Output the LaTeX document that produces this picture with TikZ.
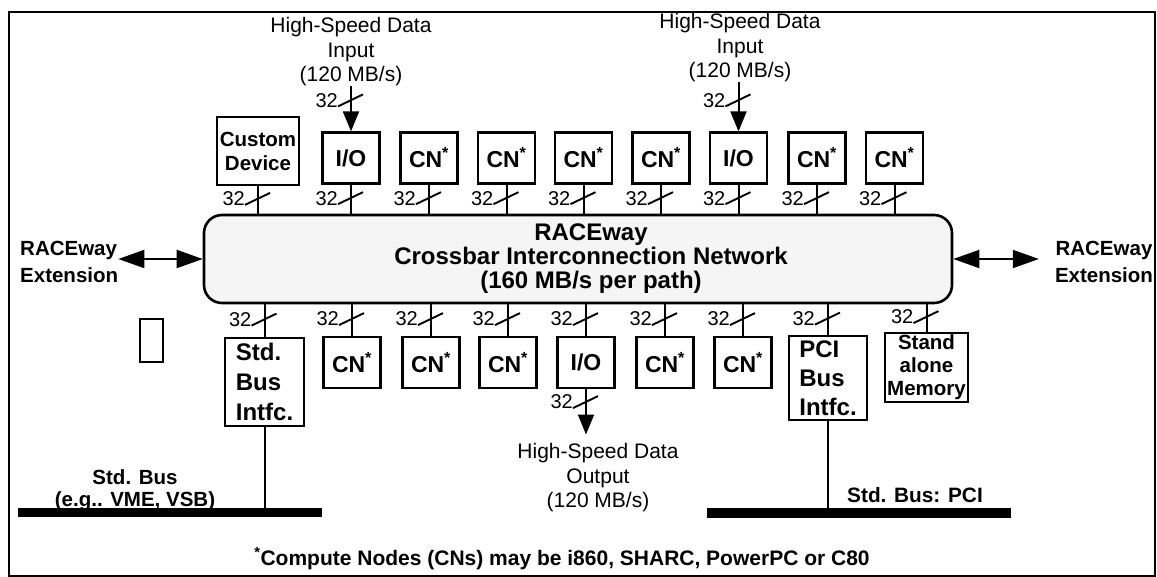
\documentclass[tikz,border=0pt]{standalone}
\usepackage{fontspec}
\setmainfont{Liberation Sans}
\usetikzlibrary{arrows.meta,calc}
\tikzset{
  box/.style={draw, line width=2.2pt, inner sep=0pt, minimum width=57pt, minimum height=51pt,
    font=\bfseries\fontsize{23}{25}\selectfont},
  conn/.style={line width=2pt},
  lbl/.style={inner sep=0pt, align=center, font=\fontsize{21}{24.5}\selectfont},
  blbl/.style={inner sep=0pt, font=\bfseries\fontsize{20.5}{27}\selectfont},
  inarrow/.style={-{Triangle[length=20pt,width=16pt]}},
  dbl/.style={{Triangle[length=26pt,width=18pt]}-{Triangle[length=26pt,width=18pt]}, line width=2pt},
  bar/.style={fill=black, inner sep=0pt},
  buswidth/.pic={
    \draw[line width=1.9pt] (-13,5) -- (12,-7);
    \node[font=\fontsize{20}{20}\selectfont, anchor=east, inner sep=0pt] (-n) at (-13,-1) {32};
  }
}
\begin{document}
\begin{tikzpicture}[x=1pt,y=-1pt]
\useasboundingbox (0,0) rectangle (1157,577);
\draw[line width=2.5pt] (9,12) rectangle (1155,576);

% network
\node[draw, line width=2.6pt, rounded corners=18pt, fill=black!4, minimum width=748pt,
      minimum height=88pt, inner sep=0pt] (net) at (578,259) {};
\node[inner sep=0pt, align=center, font=\bfseries\fontsize{24}{24}\selectfont] (netlbl) at (591,259)
  {RACEway\\Crossbar Interconnection Network\\(160 MB/s per path)};

% top row
\node[box, minimum width=82pt, minimum height=68pt, align=center,
      font=\bfseries\fontsize{20.5}{24}\selectfont] (cd) at (258,151) {Custom\\Device};
\node[box] (io1) at (351,158) {I/O};
\node[box] (cn1) at (429,158) {CN\textsuperscript{*}};
\node[box] (cn2) at (506.5,158) {CN\textsuperscript{*}};
\node[box] (cn3) at (583.5,158) {CN\textsuperscript{*}};
\node[box] (cn4) at (661,158) {CN\textsuperscript{*}};
\node[box] (io2) at (738.5,158) {I/O};
\node[box] (cn5) at (817,158) {CN\textsuperscript{*}};
\node[box] (cn6) at (894.5,158) {CN\textsuperscript{*}};

% bottom row
\node[box, minimum width=79pt, minimum height=88pt, align=left,
      font=\bfseries\fontsize{24}{30}\selectfont] (sb) at (264.5,382) {Std.\\Bus\\Intfc.};
\node[box] (cn7) at (352,362.5) {CN\textsuperscript{*}};
\node[box] (cn8) at (431,362.5) {CN\textsuperscript{*}};
\node[box] (cn9) at (508,362.5) {CN\textsuperscript{*}};
\node[box] (io3) at (586,362.5) {I/O};
\node[box] (cn10) at (665,362.5) {CN\textsuperscript{*}};
\node[box] (cn11) at (743,362.5) {CN\textsuperscript{*}};
\node[box, minimum width=78pt, minimum height=84pt, align=left,
      font=\bfseries\fontsize{24}{29}\selectfont] (pci) at (828,378) {PCI\\Bus\\Intfc.};
\node[box, minimum width=83pt, minimum height=69pt, align=center,
      font=\bfseries\fontsize{20.5}{23}\selectfont] (sam) at (926.5,367.5) {Stand\\alone\\Memory};

% connectors to the network
\foreach \n in {cd,io1,cn1,cn2,cn3,cn4,io2,cn5,cn6}{
  \draw[conn] (\n.south) -- (\n.south |- net.north);
  \pic (t\n) at ($(\n.south)!.5!(\n.south |- net.north)$) {buswidth};
}
\foreach \n in {sb,cn7,cn8,cn9,io3,cn10,cn11,pci,sam}{
  \draw[conn] (\n.north) -- (\n.north |- net.south);
  \pic (b\n) at ($(\n.north)!.5!(\n.north |- net.south)$) {buswidth};
}

% high-speed inputs
\node[lbl] (in1) at (351,52) {High-Speed Data\\Input\\(120 MB/s)};
\node[lbl] (in2) at (740,48) {High-Speed Data\\Input\\(120 MB/s)};
\draw[conn, inarrow] (in1.south) -- (io1.north);
\draw[conn, inarrow] (io2.north |- in2.south) -- (io2.north);
\pic (tin1) at ($(io1.north)+(0,-30)$) {buswidth};
\pic (tin2) at ($(io2.north)+(0,-30)$) {buswidth};

% high-speed output
\node[lbl] (out) at (598,478) {High-Speed Data\\Output\\(120 MB/s)};
\draw[conn, inarrow, shorten >=9pt] (io3.south) -- (io3.south |- out.north);
\pic (tout) at ($(io3.south)+(0,14)$) {buswidth};

% RACEway extensions
\node[blbl, align=left, anchor=west] (extL) at (20,261.5) {RACEway\\Extension};
\node[blbl, align=center] (extR) at (1104,262) {RACEway\\Extension};
\draw[dbl] (extL.east |- net.west) -- (net.west);
\draw[dbl, shorten >=16pt] (net.east) -- (extR.west |- net.east);

% empty box
\node[draw, line width=2pt, minimum width=23pt, minimum height=43pt, inner sep=0pt] (blank) at (151.5,340.5) {};

% standard buses
\node[bar, minimum width=304pt, minimum height=9pt] (busL) at (170,512.5) {};
\draw[conn] (sb.south) -- (sb.south |- busL.north);
\node[inner sep=0pt, align=center, font=\bfseries\fontsize{20.5}{22}\selectfont] (busLlbl) at (135,490)
  {Std. Bus\\(e.g.. VME, VSB)};
\node[bar, minimum width=304pt, minimum height=10pt] (busR) at (859,513) {};
\draw[conn] (pci.south) -- (pci.south |- busR.north);
\node[inner sep=0pt, anchor=base, font=\bfseries\fontsize{20.8}{22}\selectfont] (busRlbl) at (915,502) {Std. Bus: PCI};

% footnote
\node[inner sep=0pt, anchor=base, font=\bfseries\fontsize{21}{22}\selectfont] (note) at (562,565)
  {\textsuperscript{*}Compute Nodes (CNs) may be i860, SHARC, PowerPC or C80};
\end{tikzpicture}
\end{document}
